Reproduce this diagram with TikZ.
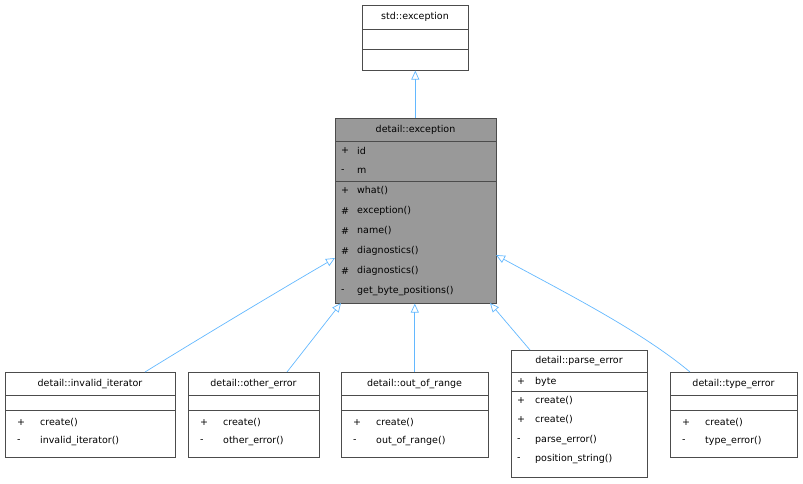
\documentclass[tikz,border=0pt]{standalone}
\usepackage{fontspec}
\setmainfont{DejaVu Sans}
\usetikzlibrary{arrows.meta}
\definecolor{edge}{HTML}{63B8FF}
\tikzset{
 box/.style={draw=black!70,line width=0.6pt,fill=white,anchor=north west,inner sep=0pt,minimum width=#1},
 line/.style={draw=black!70,line width=0.6pt},
 txt/.style={anchor=west,inner sep=0pt,font=\fontsize{9.5}{11}\selectfont},
 ttl/.style={inner sep=0pt,font=\fontsize{9.5}{11}\selectfont},
 inh/.style={edge,line width=0.7pt,-{Triangle[open,length=9pt,width=8pt]}}
}
\begin{document}
\begin{tikzpicture}[x=1pt,y=-1pt]
\useasboundingbox (0,0) rectangle (803,483);
% std::exception
\node[box=106pt,minimum height=65pt] (se) at (362,5) {};
\draw[line] (362,29)--(468,29) (362,49)--(468,49);
\node[ttl] (set) at (415,17) {std::exception};
% detail::exception
\node[box=161pt,minimum height=185pt,fill=black!40] (de) at (335,118) {};
\draw[line] (335,141)--(496,141) (335,181)--(496,181);
\node[ttl] (det) at (415.5,130) {detail::exception};
\foreach \s/\t/\y [count=\i] in {+/id/151,-/m/171,+/what()/191,\#/exception()/211,\#/name()/231,\#/diagnostics()/251,\#/diagnostics()/271,-/get\_byte\_positions()/291}
 {\node[txt] (des\i) at (341,\y) {\s}; \node[txt] (det\i) at (357,\y) {\t};}
% small classes
\foreach \n/\x/\w/\title/\ctor in {ii/5/170/invalid\_iterator/invalid\_iterator(),oe/188/131/other\_error/other\_error(),oo/341/147/out\_of\_range/out\_of\_range(),te/670/127/type\_error/type\_error()}{
 \node[box=\w pt,minimum height=85pt] (\n) at (\x,372) {};
 \draw[line] (\x,395)--++(\w,0) (\x,410)--++(\w,0);
 \node[ttl] (\n t) at (\x+\w/2,384) {detail::\title};
 \node[txt] (\n s1) at (\x+12,423) {+}; \node[txt] (\n m1) at (\x+35,423) {create()};
 \node[txt] (\n s2) at (\x+12,441) {-}; \node[txt] (\n m2) at (\x+35,441) {\ctor};
}
% parse_error
\node[box=136pt,minimum height=127pt] (pe) at (511,350) {};
\draw[line] (511,372)--(647,372) (511,391)--(647,391);
\node[ttl] (pet) at (579,361) {detail::parse\_error};
\foreach \s/\t/\y [count=\i] in {+/byte/382,+/create()/401,+/create()/420,-/parse\_error()/440,-/position\_string()/459}
 {\node[txt] (pes\i) at (517,\y) {\s}; \node[txt] (pem\i) at (535,\y) {\t};}
% connectors
\coordinate (a1) at (145,372); \coordinate (b1) at (335,258);
\coordinate (a2) at (287,372); \coordinate (b2) at (341,303);
\coordinate (a4) at (530,350); \coordinate (b4) at (490,303);
\coordinate (a5) at (690,372); \coordinate (b5) at (496,255);
\draw[inh] (se.south |- de.north) -- (se.south);
\draw[inh] (a1) .. controls (200,338) and (280,290) .. (b1);
\draw[inh] (a2) -- (b2);
\draw[inh] (oo.north) -- (oo.north |- de.south);
\draw[inh] (a4) -- (b4);
\draw[inh] (a5) .. controls (640,330) and (560,290) .. (b5);
\end{tikzpicture}
\end{document}
